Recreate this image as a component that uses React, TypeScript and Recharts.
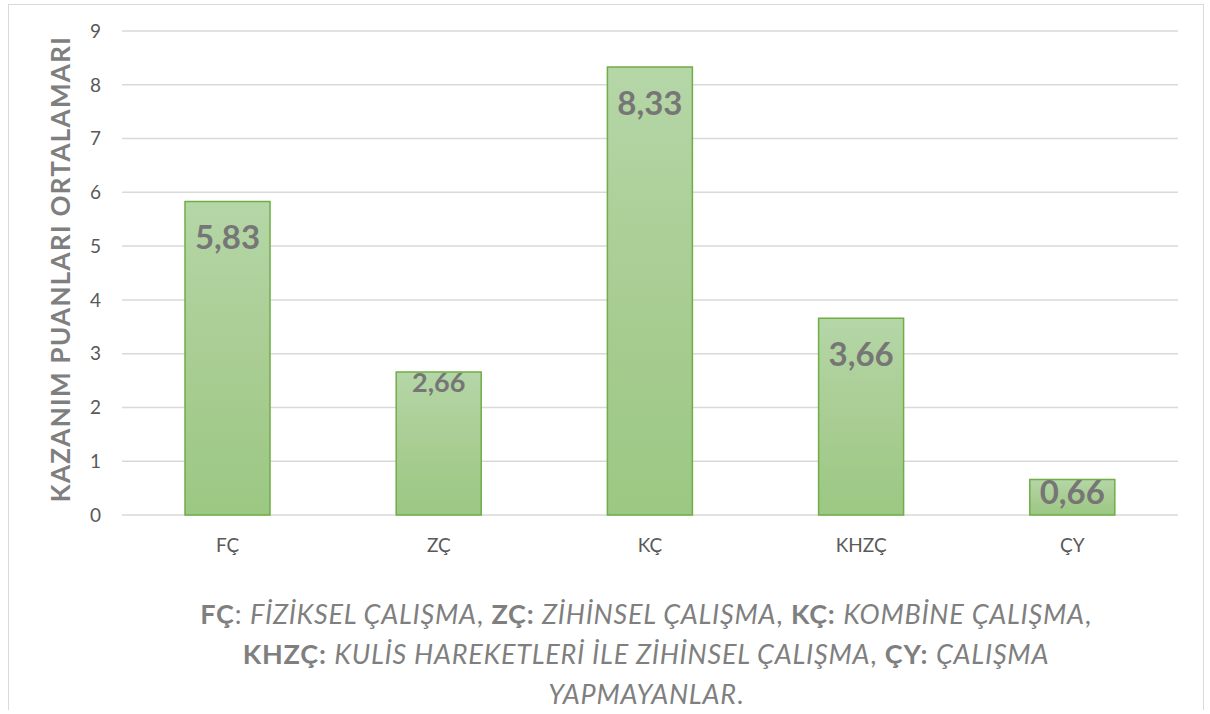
import * as React from "react";
import { BarChart, Bar, XAxis, YAxis, CartesianGrid, LabelList, Label } from "recharts";

const CATEGORIES = ["FÇ", "ZÇ", "KÇ", "KHZÇ", "ÇY"];
const AVERAGES = [5.83, 2.66, 8.33, 3.66, 0.66];
const Y_TICKS = [0, 1, 2, 3, 4, 5, 6, 7, 8, 9];
const Y_TITLE = "KAZANIM PUANLARI ORTALAMARI";

const FONT = "Lato, 'Open Sans', sans-serif";
const GRID = "#d9d9d9";
const TICK_GRAY = "#595959";
const LABEL_GRAY = "#767676";
const CAPTION_GRAY = "#7f7f7f";

const data = CATEGORIES.map((name, i) => ({ name, value: AVERAGES[i] }));

// Excel put the labels a little differently on the short bars
const LABEL_TWEAKS: Record<number, { size: number; offset: number }> = {
  1: { size: 27, offset: 20 },
  4: { size: 33, offset: 24 },
};

function renderValueLabel(props: any) {
  const { x, y, width, value, index } = props;
  const tweak = LABEL_TWEAKS[index] ?? { size: 33, offset: 48 };
  return (
    <text
      x={Number(x) + Number(width) / 2}
      y={Number(y) + tweak.offset}
      textAnchor="middle"
      fill={LABEL_GRAY}
      fontFamily={FONT}
      fontWeight={700}
      fontSize={tweak.size}
    >
      {Number(value).toFixed(2).replace(".", ",")}
    </text>
  );
}

function renderYTitle(props: any) {
  const vb = props.viewBox;
  const cx = vb.x + 51;
  const cy = vb.y + vb.height / 2 - 4;
  return (
    <text
      x={cx}
      y={cy}
      transform={`rotate(-90, ${cx}, ${cy})`}
      textAnchor="middle"
      dominantBaseline="central"
      fill={CAPTION_GRAY}
      fontFamily={FONT}
      fontWeight={700}
      fontSize={26}
      letterSpacing={1.3}
    >
      {Y_TITLE}
    </text>
  );
}

export default function App() {
  return (
    <div
      style={{
        position: "absolute",
        left: 8,
        top: 4,
        width: 1194,
        height: 705,
        border: `1px solid ${GRID}`,
        borderBottom: "none",
        background: "#fff",
        fontFamily: FONT,
      }}
    >
      <BarChart
        width={1194}
        height={580}
        data={data}
        margin={{ top: 26, right: 25, bottom: 10, left: 0 }}
      >
        <defs>
          <linearGradient id="barGreen" x1="0" y1="0" x2="0" y2="1">
            <stop offset="0%" stopColor="#b5d6a7" />
            <stop offset="50%" stopColor="#a9cd93" />
            <stop offset="100%" stopColor="#9bc883" />
          </linearGradient>
        </defs>
        <CartesianGrid vertical={false} stroke={GRID} strokeWidth={1.5} />
        <XAxis
          dataKey="name"
          axisLine={false}
          tickLine={false}
          tickSize={0}
          tickMargin={24}
          height={60}
          tick={{ fill: TICK_GRAY, fontSize: 19, fontFamily: FONT }}
        />
        <YAxis
          domain={[0, 9]}
          ticks={Y_TICKS}
          width={113}
          axisLine={false}
          tickLine={false}
          tickSize={0}
          tickMargin={21}
          tick={{ fill: TICK_GRAY, fontSize: 19, fontFamily: FONT }}
        >
          <Label content={renderYTitle} />
        </YAxis>
        <Bar
          dataKey="value"
          barSize={85}
          fill="url(#barGreen)"
          stroke="#70ad47"
          strokeWidth={1.5}
          isAnimationActive={false}
        >
          <LabelList dataKey="value" content={renderValueLabel} />
        </Bar>
      </BarChart>
      <div
        style={{
          position: "absolute",
          left: 87,
          top: 589,
          width: 1100,
          textAlign: "center",
          fontSize: 27,
          letterSpacing: 0.75,
          lineHeight: "40px",
          color: CAPTION_GRAY,
        }}
      >
        <div>
          <b>FÇ</b>: <i>FİZİKSEL ÇALIŞMA</i>, <b>ZÇ:</b> <i>ZİHİNSEL ÇALIŞMA</i>, <b>KÇ:</b> <i>KOMBİNE ÇALIŞMA</i>,
        </div>
        <div>
          <b>KHZÇ:</b> <i>KULİS HAREKETLERİ İLE ZİHİNSEL ÇALIŞMA</i>, <b>ÇY:</b> <i>ÇALIŞMA</i>
        </div>
        <div>
          <i>YAPMAYANLAR</i>.
        </div>
      </div>
    </div>
  );
}
